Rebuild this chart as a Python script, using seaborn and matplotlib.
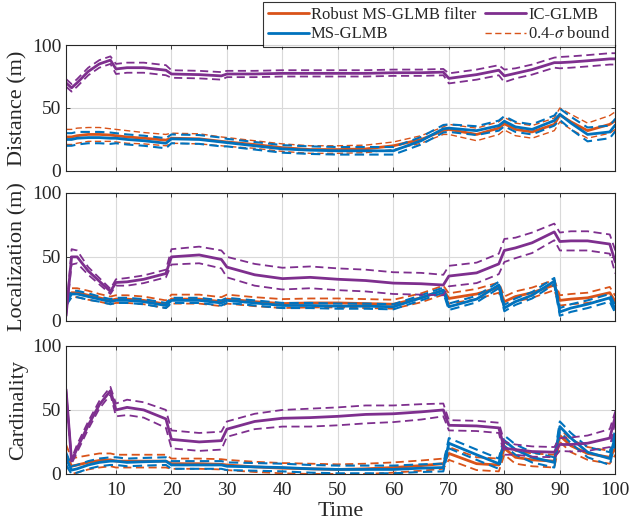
import numpy as np
import matplotlib
matplotlib.use("Agg")
import matplotlib.pyplot as plt
import seaborn as sns
from matplotlib.lines import Line2D

# time steps where the curves change slope
TIME = [1, 2, 3, 5, 7, 9, 10, 12, 15, 19, 20, 25, 29, 30, 35, 40, 45, 50, 55,
        60, 65, 69, 70, 75, 79, 80, 82, 85, 89, 90, 92, 95, 99, 100]

# ---- Distance (m)
dist_robust = [27, 27, 28, 29, 29, 28.5, 28, 27, 26, 24.5, 26, 25.5, 23.5, 23, 21, 18.5, 17, 17, 17.5,
               20, 25, 32, 33, 29, 34, 37.5, 33, 31, 37, 44.5, 39, 32, 37, 40]
dist_robust_sd = [6, 6, 6, 5.5, 5.5, 5, 5, 5, 4.5, 4.5, 4, 4, 3.5, 3.5, 3, 3, 3, 3, 3,
                  3, 3, 3, 4, 5, 5, 5, 5, 5, 5, 5.5, 6, 6, 7, 7]
dist_ms = [25, 25, 26, 26.5, 26.5, 26, 26, 25, 24, 22, 25.5, 25, 23, 22.5, 20, 17.5, 16.5, 16, 16,
           16, 24, 33.5, 34, 32, 36, 39.5, 35, 33, 40, 45, 38, 29, 31, 36.5]
dist_ms_sd = [5, 5, 5, 4.5, 4.5, 4.5, 4, 4, 4, 4, 3.5, 3.5, 3.5, 3, 3, 3, 3, 3, 3,
              3, 3, 3, 3, 3.5, 4, 4, 4, 4, 4, 4.5, 5, 5.5, 5, 5]
dist_ic = [70, 66, 70, 79, 85, 88, 81, 82, 82, 80, 77, 76.5, 75.5, 77, 77, 77.5, 77.5, 77.5, 77.5,
           78, 78, 78.5, 73.5, 76.5, 80, 75.5, 77.5, 80.5, 86, 86, 86.5, 87.5, 89, 89]
dist_ic_sd = [3, 3, 3, 3, 3, 3, 4, 4, 4, 4, 3, 3, 3, 2.5, 2.5, 2.5, 2.5, 2.5, 2.5,
              2.5, 2.5, 2.5, 4, 4, 4, 5, 4, 4, 4, 4.5, 4.5, 4.5, 4.5, 4.5]

# ---- Localization (m)
loc_robust = [15, 22, 22, 20, 18, 16, 17, 17, 16, 13, 17, 17, 15, 17, 15, 13.5, 14, 14, 13.5,
              13, 18, 24, 17.5, 21, 26, 15, 19, 22, 28, 16, 17, 18, 22, 15]
loc_robust_sd = [2, 3.5, 3.5, 3.5, 3, 3, 3, 3, 3, 3, 3.5, 3.5, 3.5, 3.5, 3.5, 3.5, 3.5, 3.5, 3.5,
                 3.5, 3.5, 3.5, 4, 4, 4, 4, 4, 4, 4, 4, 4, 4, 4.5, 4.5]
loc_ms = [14, 21, 21, 19, 17, 15, 16, 16, 15, 12, 16, 16, 14, 16, 14, 12, 12, 11.5, 11.5,
          11, 18, 24, 11, 17, 28, 10, 15, 20, 31, 7, 10, 13, 18, 9]
loc_ms_sd = [2, 2.5, 2.5, 2.5, 2, 2, 2, 2, 2, 2, 2, 2, 2, 2, 2, 2, 2, 2, 2,
             2, 2, 2, 2.5, 2.5, 2.5, 2.5, 2.5, 2.5, 2.5, 3, 3, 3, 3, 3]
loc_ic = [4, 50, 50, 39, 31, 23, 30, 30.5, 32.5, 37, 50, 51.5, 48, 42, 36, 33, 34, 32.5, 31.5,
          29.5, 29, 28, 35, 37.5, 44.5, 55, 57, 61, 69.5, 62, 62.5, 62.5, 60, 46]
loc_ic_sd = [1, 6, 5, 3, 2.5, 2, 2.5, 3, 3, 3, 6, 6.5, 7, 8, 8.5, 8.5, 8.5, 8.5, 8.5,
             8.5, 8.5, 8, 8, 8, 8, 9, 8, 8, 6.5, 7, 7.5, 7.5, 7.5, 9]

# ---- Cardinality
card_robust = [15, 6, 7, 9, 10.5, 11, 10, 10, 10, 10, 8, 8, 7.5, 7, 5.5, 4.5, 4, 3.5, 4,
               5, 6.5, 8, 16, 8, 7, 20, 13, 11, 10, 30, 22, 16, 13, 20]
card_robust_sd = [8, 6, 6, 5.5, 5.5, 5, 5, 5, 5, 5, 4, 4, 4, 4, 4, 4, 4, 4, 4,
                  4, 4, 4, 5, 5, 5, 5, 5, 5, 5, 5, 5, 5, 5, 5]
card_ms = [12, 3, 4, 7, 9, 10, 10, 9, 9.5, 10, 7, 7, 7, 6, 5.5, 5, 4, 3.5, 3.5,
           3.5, 4.5, 5, 24, 15, 8, 26, 19, 13, 9, 37, 28, 17, 12, 30]
card_ms_sd = [5, 3, 3, 3, 3, 3, 3, 3, 3, 3, 3, 3, 3, 3, 3, 3, 3, 3, 3,
              3, 3, 3, 4, 4, 4, 4, 4, 4, 4, 4, 4, 4, 5, 5]
card_ic = [66, 10, 20, 38, 54, 65, 50, 52, 50, 43, 27, 25, 26, 35, 41, 43.5, 44, 45, 46.5,
           47, 48.5, 50, 38, 37.5, 36, 20, 19, 17.5, 17, 23, 23, 24, 28, 45]
card_ic_sd = [0.5, 2, 3, 3, 3, 3, 5, 6, 6, 7, 7, 7, 7, 6, 6, 6.5, 7, 7, 7,
              6.5, 6, 5, 4, 4, 4, 5, 4, 4, 4, 5, 5.5, 6, 7, 4]

YLABELS = ["Distance (m)", "Localization (m)", "Cardinality"]
XTICKS = [10, 20, 30, 40, 50, 60, 70, 80, 90, 100]
YTICKS = [0, 50, 100]
NAMES = ["Robust MS-GLMB filter", "MS-GLMB", "IC-GLMB", "0.4-$\\sigma$ bound"]

C_ROBUST = "#D95319"
C_MS = "#0072BD"
C_IC = "#7E2F8E"
DASH = (0, (4.5, 2.5))

sns.set_theme(style="ticks")
plt.rcParams["font.family"] = ["Liberation Serif", "DejaVu Serif"]
plt.rcParams["mathtext.fontset"] = "stix"

fig = plt.figure(figsize=(6.35, 5.26), dpi=100)
boxes = [(0.104, 0.675, 0.865, 0.2394),
         (0.104, 0.390, 0.865, 0.2433),
         (0.104, 0.099, 0.865, 0.2433)]

panels = [
    [(dist_robust, dist_robust_sd, C_ROBUST, 1.0), (dist_ms, dist_ms_sd, C_MS, 1.5), (dist_ic, dist_ic_sd, C_IC, 1.3)],
    [(loc_robust, loc_robust_sd, C_ROBUST, 1.3), (loc_ms, loc_ms_sd, C_MS, 1.5), (loc_ic, loc_ic_sd, C_IC, 1.3)],
    [(card_robust, card_robust_sd, C_ROBUST, 1.3), (card_ms, card_ms_sd, C_MS, 1.5), (card_ic, card_ic_sd, C_IC, 1.3)],
]

t = np.array(TIME)
for i, (box, series) in enumerate(zip(boxes, panels)):
    ax = fig.add_axes(box)
    for mean, sd, col, dlw in series:
        mean = np.array(mean)
        sd = np.array(sd)
        sns.lineplot(x=t, y=mean, color=col, lw=2.0, ax=ax, sort=False)
        sns.lineplot(x=t, y=mean + sd, color=col, lw=dlw, ax=ax, sort=False, linestyle=DASH)
        sns.lineplot(x=t, y=np.clip(mean - sd, 0, None), color=col, lw=dlw, ax=ax, sort=False,
                     linestyle=DASH)
    ax.set_xlim(1, 100)
    ax.set_ylim(0, 100)
    ax.set_xticks(XTICKS)
    ax.set_yticks(YTICKS)
    ax.grid(True, color="#d9d9d9", lw=0.8)
    ax.tick_params(direction="in", length=3, width=0.6, top=True, right=True,
                   labelsize=14, colors="#262626")
    ax.tick_params(axis="x", pad=6)
    for sp in ax.spines.values():
        sp.set_linewidth(0.8)
        sp.set_color("#262626")
    ax.set_ylabel(YLABELS[i], fontsize=16, labelpad=3)
    if i < 2:
        ax.set_xticklabels([])
        ax.set_xlabel("")
    else:
        ax.set_xlabel("Time", fontsize=16, labelpad=2)

handles = [Line2D([], [], color=C_ROBUST, lw=2.0),
           Line2D([], [], color=C_MS, lw=2.0),
           Line2D([], [], color=C_IC, lw=2.0),
           Line2D([], [], color=C_ROBUST, lw=1.0, linestyle=DASH)]
leg = fig.legend(handles, NAMES, ncol=2, loc="upper right", bbox_to_anchor=(0.969, 0.996),
                 fontsize=12, frameon=True, fancybox=False, edgecolor="black",
                 borderpad=0.3, handlelength=2.45, columnspacing=0.55, handletextpad=0.12,
                 labelspacing=0.2, borderaxespad=0)
leg.get_frame().set_linewidth(0.8)

fig.savefig("out.png", dpi=100)
